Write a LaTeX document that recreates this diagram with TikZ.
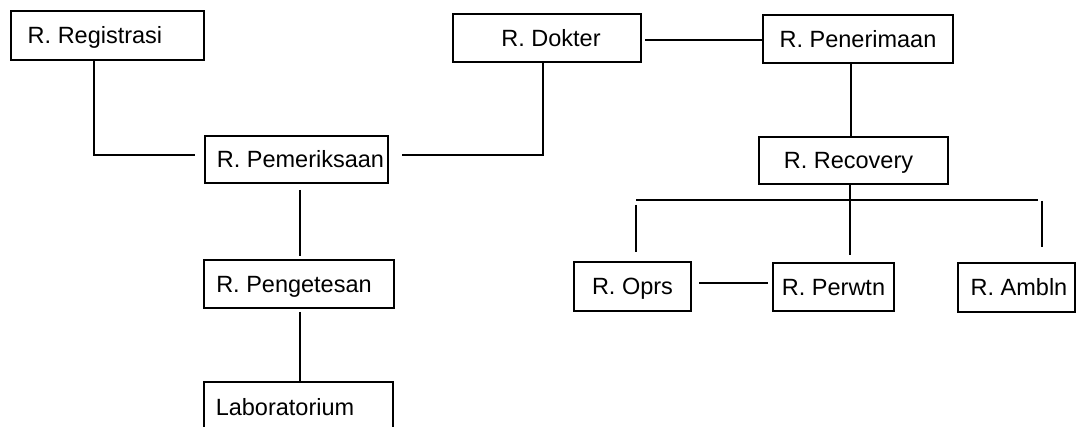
\documentclass[tikz,border=0pt]{standalone}
\usepackage{fontspec}
\setmainfont{Liberation Sans}
\begin{document}
\begin{tikzpicture}[x=1pt,y=-1pt,
  box/.style={draw, line width=2pt, rectangle, inner sep=0pt, anchor=north west,
    text height=17pt, text depth=0pt, font=\fontsize{23.5}{28}\selectfont},
  link/.style={line width=1.8pt}]
\useasboundingbox (0,0) rectangle (1078,427);
% boxes
\node[box, minimum width=193pt, minimum height=49pt] (reg) at (10,10) {\hspace*{-25pt}R. Registrasi};
\node[box, minimum width=183pt, minimum height=47pt] (pem) at (204,135) {\hspace*{8pt}R. Pemeriksaan};
\node[box, minimum width=188pt, minimum height=48pt] (dok) at (452,13) {\hspace*{8pt}R. Dokter};
\node[box, minimum width=190pt, minimum height=48pt] (pen) at (762,14) {R. Penerimaan};
\node[box, minimum width=189pt, minimum height=47pt] (rec) at (758,136) {\hspace*{-10pt}R. Recovery};
\node[box, minimum width=190pt, minimum height=48pt] (peng) at (203,259) {\hspace*{-10pt}R. Pengetesan};
\node[box, minimum width=189pt, minimum height=49pt] (lab) at (203,381) {\hspace*{-27pt}Laboratorium};
\node[box, minimum width=117pt, minimum height=49pt] (oprs) at (573,261) {R. Oprs};
\node[box, minimum width=121pt, minimum height=48pt] (perwtn) at (772,262) {R. Perwtn};
\node[box, minimum width=117pt, minimum height=49pt] (ambln) at (957,262) {\hspace*{5pt}R. Ambln};
% helper coordinates
\coordinate (c1) at (94,155);
\coordinate (c2) at (543,155);
\coordinate (c3) at (0,40);
\coordinate (c4) at (851,0);
\coordinate (c5) at (300,0);
\coordinate (c6) at (0,283);
\coordinate (bus) at (850,200);
\coordinate (busL) at (636,200);
\coordinate (busR) at (1038,200);
\coordinate (dropR) at (1042,201);
% connectors
\draw[link, shorten >=9pt] (reg.south -| c1) -- (c1) -- (pem.west |- c1);
\draw[link, shorten >=13pt] (dok.south -| c2) -- (c2) -- (pem.east |- c2);
\draw[link, shorten <=3pt] (dok.east |- c3) -- (pen.west |- c3);
\draw[link] (pen.south -| c4) -- (rec.north -| c4);
\draw[link, shorten >=7pt] (rec.south -| bus) -- (bus) -- (perwtn.north -| bus);
\draw[link] (busL) -- (busR);
\draw[link, shorten <=5pt, shorten >=9pt] (busL) -- (oprs.north -| busL);
\draw[link, shorten >=15pt] (dropR) -- (ambln.north -| dropR);
\draw[link, shorten <=7pt, shorten >=4pt] (oprs.east |- c6) -- (perwtn.west |- c6);
\draw[link, shorten <=6pt, shorten >=3pt] (pem.south -| c5) -- (peng.north -| c5);
\draw[link, shorten <=3pt] (peng.south -| c5) -- (lab.north -| c5);
\end{tikzpicture}
\end{document}
